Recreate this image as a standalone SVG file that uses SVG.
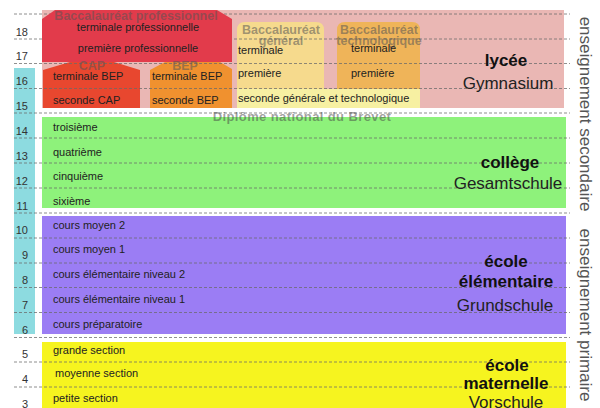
<svg xmlns="http://www.w3.org/2000/svg" width="600" height="408" viewBox="0 0 600 408">
<style>
text{font-family:"Liberation Sans",Arial,sans-serif;}
.num{font-size:11px;fill:#333;text-anchor:end;}
.g{font-size:11px;fill:#222;}
.gc{font-size:11px;fill:#222;text-anchor:middle;}
.tt{font-size:12.5px;font-weight:bold;fill:#555;fill-opacity:0.55;text-anchor:middle;}
.h{font-size:17px;font-weight:bold;fill:#111;text-anchor:middle;}
.s{font-size:17px;fill:#222;text-anchor:middle;}
.side{font-size:17px;fill:#555;text-anchor:middle;}
.grid line{stroke:#6a6a6a;stroke-width:1;stroke-dasharray:3 2;stroke-opacity:0.75;}
</style>
<rect width="600" height="408" fill="#ffffff"/>
<rect x="14" y="68" width="21" height="266" fill="#8ddbe0"/>
<g id="lycee">
<rect x="42" y="10" width="522" height="98" fill="#eab7b4"/>
</g>
<g id="bac-general">
<path d="M237,108 V30 Q237,22 245,22 H316 Q324,22 324,30 V108 Z" fill="#f6da8d"/>
</g>
<g id="bac-techno">
<path d="M337,89 V30 Q337,22 345,22 H412 Q420,22 420,30 V89 Z" fill="#efb459"/>
</g>
<g id="seconde-gt">
<rect x="237" y="89" width="183" height="19" fill="#f7f0a2"/>
</g>
<g id="college">
<rect x="42" y="117" width="524" height="91" fill="#8ef27b"/>
</g>
<g id="elementaire">
<rect x="42" y="216" width="524" height="118" fill="#9b7df4"/>
</g>
<g id="maternelle">
<rect x="42" y="342" width="524" height="66" fill="#f6f41f"/>
</g>
<g id="cap">
<path d="M43,108 V70 L70,62 H114 L140,70 V108 Z" fill="#e8472f"/>
</g>
<g id="bep">
<path d="M150,108 V70 L165,62 H220 L232,69 V108 Z" fill="#f0912f"/>
</g>
<g class="grid" id="connectors">
<line x1="14" y1="14" x2="570" y2="14"/>
<line x1="14" y1="39" x2="570" y2="39"/>
<line x1="14" y1="63.5" x2="570" y2="63.5"/>
<line x1="14" y1="88.5" x2="570" y2="88.5"/>
<line x1="14" y1="113" x2="570" y2="113"/>
<line x1="14" y1="138" x2="570" y2="138"/>
<line x1="14" y1="163" x2="570" y2="163"/>
<line x1="14" y1="188" x2="570" y2="188"/>
<line x1="14" y1="213" x2="570" y2="213"/>
<line x1="14" y1="238" x2="570" y2="238"/>
<line x1="14" y1="263" x2="570" y2="263"/>
<line x1="14" y1="287.5" x2="570" y2="287.5"/>
<line x1="14" y1="312.5" x2="570" y2="312.5"/>
<line x1="14" y1="337.5" x2="570" y2="337.5"/>
<line x1="14" y1="362" x2="570" y2="362"/>
<line x1="14" y1="387" x2="570" y2="387"/>
</g>
<g id="bac-pro">
<path d="M42,62 V19 L55,10 H217 L232,19 V62 Z" fill="#e23b4b"/>
<text class="tt" x="136" y="20">Baccalauréat professionnel</text>
<text class="gc" x="138" y="31">terminale professionnelle</text>
<text class="gc" x="138" y="52">première professionnelle</text>
</g>
<g id="cap-text">
<text class="tt" x="92" y="70">CAP</text>
<text class="g" x="53" y="80">terminale BEP</text>
<text class="g" x="53" y="104">seconde CAP</text>
</g>
<g id="bep-text">
<text class="tt" x="185" y="70">BEP</text>
<text class="g" x="152" y="80">terminale BEP</text>
<text class="g" x="152" y="104">seconde BEP</text>
</g>
<g id="bac-general-text">
<text class="tt" x="281" y="34">Baccalauréat</text>
<text class="tt" x="281" y="45">général</text>
<text class="g" x="238" y="54">terminale</text>
<text class="g" x="238" y="77">première</text>
</g>
<g id="bac-techno-text">
<text class="tt" x="379" y="34">Baccalauréat</text>
<text class="tt" x="379" y="45">technologique</text>
<text class="g" x="351" y="52">terminale</text>
<text class="g" x="351" y="77">première</text>
</g>
<text class="g" x="238" y="102">seconde générale et technologique</text>
<text class="h" x="506" y="66">lycée</text>
<text class="s" x="508" y="89">Gymnasium</text>
<text x="302" y="121" style="font-size:13px;font-weight:bold;fill:#444;fill-opacity:0.5;text-anchor:middle;letter-spacing:0.4px">Diplôme national du Brevet</text>
<g id="college-text">
<text class="g" x="53" y="131">troisième</text>
<text class="g" x="53" y="156">quatrième</text>
<text class="g" x="53" y="180">cinquième</text>
<text class="g" x="53" y="205">sixième</text>
<text class="h" x="510" y="168">collège</text>
<text class="s" x="508" y="189">Gesamtschule</text>
</g>
<g id="elementaire-text">
<text class="g" x="53" y="229">cours moyen 2</text>
<text class="g" x="53" y="253">cours moyen 1</text>
<text class="g" x="53" y="278">cours élémentaire niveau 2</text>
<text class="g" x="53" y="303">cours élémentaire niveau 1</text>
<text class="g" x="53" y="328">cours préparatoire</text>
<text class="h" x="506" y="267">école</text>
<text class="h" x="506" y="287">élémentaire</text>
<text class="s" x="505" y="311">Grundschule</text>
</g>
<g id="maternelle-text">
<text class="g" x="53" y="354">grande section</text>
<text class="g" x="55" y="377">moyenne section</text>
<text class="g" x="53" y="402">petite section</text>
<text class="h" x="507" y="371">école</text>
<text class="h" x="506" y="389">maternelle</text>
<text class="s" x="506" y="408">Vorschule</text>
</g>
<g id="ages">
<text class="num" x="28" y="36">18</text>
<text class="num" x="28" y="60">17</text>
<text class="num" x="28" y="85">16</text>
<text class="num" x="28" y="110">15</text>
<text class="num" x="28" y="135">14</text>
<text class="num" x="28" y="160">13</text>
<text class="num" x="28" y="185">12</text>
<text class="num" x="28" y="210">11</text>
<text class="num" x="28" y="234">10</text>
<text class="num" x="28" y="259">9</text>
<text class="num" x="28" y="284">8</text>
<text class="num" x="28" y="309">7</text>
<text class="num" x="28" y="334">6</text>
<text class="num" x="28" y="358">5</text>
<text class="num" x="28" y="383">4</text>
<text class="num" x="28" y="408">3</text>
</g>
<text class="side" transform="translate(580,114) rotate(90)">enseignement secondaire</text>
<text class="side" transform="translate(580,315) rotate(90)">enseignement primaire</text>
</svg>
